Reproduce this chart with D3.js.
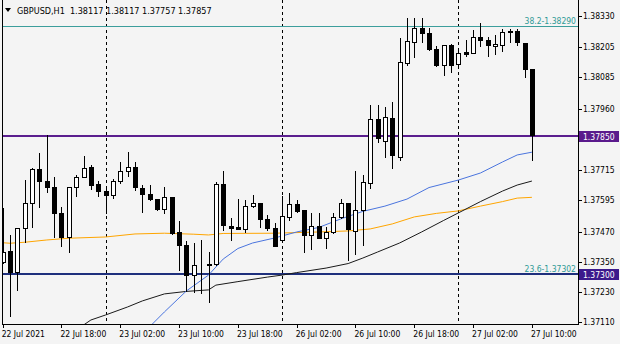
<!DOCTYPE html>
<html>
<head>
<meta charset="utf-8">
<script src="https://cdn.jsdelivr.net/npm/d3@7"></script>
<style>
  html, body { margin: 0; padding: 0; background: #f4f4f4; }
  svg { display: block; font-family: "DejaVu Sans Condensed", "Liberation Sans", sans-serif; }
</style>
</head>
<body>
<svg id="chart" width="620" height="344"></svg>
<script>
// ── GBPUSD H1 candles, 22 Jul 10:00 → 27 Jul 10:00 (one entry per bar) ──
const opens = [
  1.37349, 1.37394, 1.37310, 1.37484, 1.37583, 1.37720, 1.37671, 1.37649, 1.37543, 1.37450,
  1.37647, 1.37687, 1.37727, 1.37659, 1.37634, 1.37616, 1.37673, 1.37713, 1.37727, 1.37643,
  1.37620, 1.37599, 1.37562, 1.37607, 1.37468, 1.37417, 1.37297, 1.37339, 1.37341, 1.37340,
  1.37659, 1.37493, 1.37490, 1.37481, 1.37573, 1.37586, 1.37521, 1.37484, 1.37437, 1.37530,
  1.37580, 1.37557, 1.37457, 1.37493, 1.37446, 1.37468, 1.37527, 1.37586, 1.37473, 1.37557,
  1.37664, 1.37919, 1.37832, 1.37923, 1.37768, 1.38141, 1.38226, 1.38281, 1.38261, 1.38198,
  1.38135, 1.38214, 1.38139, 1.38185, 1.38184, 1.38247, 1.38234, 1.38212, 1.38214, 1.38268,
  1.38270, 1.38224, 1.38117
];
const highs = [
  1.37564, 1.37457, 1.37485, 1.37676, 1.37723, 1.37783, 1.37856, 1.37689, 1.37567, 1.37648,
  1.37696, 1.37772, 1.37736, 1.37672, 1.37643, 1.37680, 1.37747, 1.37787, 1.37747, 1.37656,
  1.37656, 1.37600, 1.37647, 1.37607, 1.37514, 1.37433, 1.37425, 1.37437, 1.37389, 1.37669,
  1.37713, 1.37523, 1.37600, 1.37596, 1.37616, 1.37586, 1.37537, 1.37503, 1.37614, 1.37623,
  1.37596, 1.37557, 1.37543, 1.37543, 1.37490, 1.37543, 1.37600, 1.37586, 1.37712, 1.37696,
  1.37975, 1.37975, 1.37967, 1.37987, 1.38242, 1.38322, 1.38322, 1.38322, 1.38282, 1.38210,
  1.38214, 1.38218, 1.38202, 1.38236, 1.38276, 1.38302, 1.38247, 1.38254, 1.38280, 1.38278,
  1.38277, 1.38224, 1.38117
];
const lows = [
  1.37345, 1.37134, 1.37238, 1.37430, 1.37490, 1.37567, 1.37630, 1.37450, 1.37414, 1.37390,
  1.37612, 1.37687, 1.37639, 1.37614, 1.37543, 1.37606, 1.37665, 1.37692, 1.37636, 1.37550,
  1.37596, 1.37557, 1.37543, 1.37461, 1.37317, 1.37234, 1.37230, 1.37226, 1.37191, 1.37337,
  1.37477, 1.37437, 1.37480, 1.37470, 1.37570, 1.37490, 1.37477, 1.37414, 1.37432, 1.37517,
  1.37550, 1.37390, 1.37401, 1.37444, 1.37405, 1.37464, 1.37523, 1.37357, 1.37381, 1.37417,
  1.37644, 1.37829, 1.37768, 1.37724, 1.37756, 1.38135, 1.38166, 1.38226, 1.38196, 1.38131,
  1.38095, 1.38107, 1.38135, 1.38170, 1.38181, 1.38210, 1.38172, 1.38178, 1.38190, 1.38228,
  1.38214, 1.38087, 1.37757
];
const closes = [
  1.37389, 1.37310, 1.37484, 1.37583, 1.37719, 1.37672, 1.37649, 1.37543, 1.37450, 1.37647,
  1.37687, 1.37723, 1.37656, 1.37634, 1.37616, 1.37673, 1.37713, 1.37727, 1.37647, 1.37620,
  1.37599, 1.37559, 1.37607, 1.37464, 1.37417, 1.37297, 1.37337, 1.37339, 1.37339, 1.37660,
  1.37497, 1.37484, 1.37480, 1.37573, 1.37586, 1.37519, 1.37484, 1.37414, 1.37533, 1.37580,
  1.37552, 1.37457, 1.37493, 1.37446, 1.37468, 1.37527, 1.37586, 1.37479, 1.37557, 1.37668,
  1.37918, 1.37844, 1.37927, 1.37776, 1.38147, 1.38230, 1.38281, 1.38261, 1.38198, 1.38135,
  1.38214, 1.38135, 1.38181, 1.38178, 1.38247, 1.38236, 1.38214, 1.38220, 1.38266, 1.38270,
  1.38228, 1.38118, 1.37857
];

// ── Moving averages at a few bars (bar index, price) ──
const blueIdx = [19, 22, 25, 28, 30, 32, 34, 37, 40, 43, 46, 49, 52, 55, 58, 62, 65, 68, 70, 72];
const blueVal = [1.37062, 1.37150, 1.37234, 1.37297, 1.37361, 1.37403, 1.37425, 1.37445, 1.37469, 1.37487,
                 1.37521, 1.37551, 1.37572, 1.37600, 1.37646, 1.37676, 1.37704, 1.37748, 1.37776, 1.37787];
const blackIdx = [10, 12, 14, 17, 19, 22, 25, 28, 29, 32, 36, 38, 40, 44, 47, 49, 51, 54, 57, 60, 62, 65, 68, 70, 72];
const blackVal = [1.37078, 1.37118, 1.37138, 1.37170, 1.37194, 1.37222, 1.37232, 1.37238, 1.37257, 1.37271,
                  1.37289, 1.37297, 1.37307, 1.37325, 1.37343, 1.37365, 1.37389, 1.37425, 1.37469, 1.37515,
                  1.37545, 1.37590, 1.37632, 1.37656, 1.37672];
const orangeIdx = [0, 1, 3, 6, 9, 14, 18, 22, 26, 28, 30, 37, 43, 47, 50, 53, 56, 59, 62, 65, 68, 70, 72];
const orangeVal = [1.37426, 1.37424, 1.37428, 1.37437, 1.37444, 1.37449, 1.37461, 1.37464, 1.37460, 1.37457,
                   1.37463, 1.37464, 1.37469, 1.37473, 1.37481, 1.37501, 1.37529, 1.37543, 1.37553, 1.37572,
                   1.37590, 1.37604, 1.37607];

// ── Axis ticks ──
const priceTicks = [1.38330, 1.38205, 1.38085, 1.37960, 1.37840, 1.37715, 1.37595, 1.37470, 1.37350, 1.37230, 1.37110];
const timeTickIdx = [0, 8, 16, 24, 32, 40, 48, 56, 64, 72];
const timeTickLabels = ["22 Jul 2021", "22 Jul 18:00", "23 Jul 02:00", "23 Jul 10:00", "23 Jul 18:00",
                        "26 Jul 02:00", "26 Jul 10:00", "26 Jul 18:00", "27 Jul 02:00", "27 Jul 10:00"];
const daySeparatorIdx = [14, 38, 62];

// ── Horizontal levels ──
const fibLevels = [1.38290, 1.37302];
const fibLabels = ["38.2-1.38290", "23.6-1.37302"];
const hLevels = [1.37850, 1.37300];
const hLabels = ["1.37850", "1.37300"];

const title = "GBPUSD,H1  1.38117 1.38117 1.37757 1.37857";

// ── Layout ──
const W = 620, H = 344;
const plotL = 2, plotR = 578, plotT = 0, plotB = 324;

const svg = d3.select("#chart");

const x = d3.scaleLinear().domain([0, 72]).range([2.7, 531.9]);
const y = d3.scaleLinear().domain([1.37110, 1.38330]).range([322, 16]);
const px = v => Math.round(v) + 0.5;

svg.append("rect").attr("width", W).attr("height", H).attr("fill", "#f4f4f4");

svg.append("defs").append("clipPath").attr("id", "plot-clip")
  .append("rect")
  .attr("x", plotL + 1).attr("y", plotT)
  .attr("width", plotR - plotL - 1).attr("height", plotB - plotT);

const plot = svg.append("g").attr("clip-path", "url(#plot-clip)");

// Day separators
plot.selectAll(".sep")
  .data(daySeparatorIdx)
  .join("line")
  .attr("x1", d => px(x(d))).attr("x2", d => px(x(d)))
  .attr("y1", plotT).attr("y2", plotB)
  .attr("stroke", "#000").attr("stroke-width", 1)
  .attr("stroke-dasharray", "3,3");

// Fibo lines (teal)
plot.selectAll(".fib")
  .data(fibLevels)
  .join("line")
  .attr("x1", plotL).attr("x2", plotR)
  .attr("y1", d => px(y(d))).attr("y2", d => px(y(d)))
  .attr("stroke", "#3c9e9c").attr("stroke-width", 1);

// Horizontal levels
const levelColors = ["#5a1e8e", "#1e2f7c"];
plot.selectAll(".hl")
  .data(hLevels)
  .join("line")
  .attr("x1", plotL).attr("x2", plotR)
  .attr("y1", d => Math.round(y(d))).attr("y2", d => Math.round(y(d)))
  .attr("stroke", (d, i) => levelColors[i]).attr("stroke-width", 2);

// Moving averages
function maLine(idx, vals, color) {
  const pts = idx.map((d, i) => [x(d), y(vals[i])]);
  plot.append("path")
    .attr("d", d3.line()(pts))
    .attr("fill", "none")
    .attr("stroke", color)
    .attr("stroke-width", 1);
}
maLine(orangeIdx, orangeVal, "#ffa500");
maLine(blackIdx, blackVal, "#1a1a1a");
maLine(blueIdx, blueVal, "#4a74de");

// Candles
const bars = d3.range(opens.length).map(i => ({
  i, o: opens[i], h: highs[i], l: lows[i], c: closes[i]
}));

const cg = plot.selectAll(".candle")
  .data(bars)
  .join("g");

cg.append("line")
  .attr("x1", d => px(x(d.i))).attr("x2", d => px(x(d.i)))
  .attr("y1", d => Math.round(y(d.h))).attr("y2", d => Math.round(y(d.l)) + 1)
  .attr("stroke", "#000").attr("stroke-width", 1);

cg.append("rect")
  .attr("x", d => Math.round(x(d.i)) - 1.5)
  .attr("width", 4)
  .attr("y", d => px(y(Math.max(d.o, d.c))))
  .attr("height", d => Math.max(0, Math.round(y(Math.min(d.o, d.c))) - Math.round(y(Math.max(d.o, d.c)))))
  .attr("fill", d => d.c > d.o ? "#ffffff" : "#000000")
  .attr("stroke", "#000").attr("stroke-width", 1);

// Fibo labels
svg.selectAll(".fibtxt")
  .data(fibLabels)
  .join("text")
  .attr("x", 576).attr("y", (d, i) => y(fibLevels[i]) - 2)
  .attr("text-anchor", "end")
  .attr("font-size", 8.5)
  .attr("fill", "#2f9a96")
  .text(d => d);

// ── Frame ──
svg.append("line").attr("x1", plotL + 0.5).attr("x2", plotL + 0.5).attr("y1", plotT).attr("y2", plotB + 0.5)
  .attr("stroke", "#000");
svg.append("line").attr("x1", plotR + 0.5).attr("x2", plotR + 0.5).attr("y1", plotT).attr("y2", plotB + 0.5)
  .attr("stroke", "#000");
svg.append("line").attr("x1", plotL).attr("x2", plotR + 1).attr("y1", plotB + 0.5).attr("y2", plotB + 0.5)
  .attr("stroke", "#000");

// ── Right price axis ──
// labels hidden under a level tag are not drawn (as in the terminal)
const visibleTicks = priceTicks.filter(t => hLevels.every(h => Math.abs(y(t) - y(h)) > 9));
const yAxis = svg.append("g");
yAxis.selectAll("line")
  .data(priceTicks)
  .join("line")
  .attr("x1", plotR + 1).attr("x2", plotR + 4)
  .attr("y1", d => px(y(d))).attr("y2", d => px(y(d)))
  .attr("stroke", "#000");
yAxis.selectAll("text")
  .data(visibleTicks)
  .join("text")
  .attr("x", plotR + 5).attr("y", d => y(d) + 3)
  .attr("font-size", 8.5).attr("fill", "#000")
  .text(d => d.toFixed(5));

// Level tags on the price axis
const tagColors = ["#5a1a8c", "#3c1a8c"];
const tags = svg.selectAll(".tag")
  .data(hLevels)
  .join("g");
tags.append("rect")
  .attr("x", plotR + 1).attr("width", 40)
  .attr("y", d => Math.round(y(d)) - 5).attr("height", 11)
  .attr("fill", (d, i) => tagColors[i]);
tags.append("text")
  .attr("x", plotR + 5).attr("y", d => y(d) + 3.5)
  .attr("font-size", 8.5).attr("fill", "#fff")
  .text((d, i) => hLabels[i]);

// ── Bottom time axis ──
const xAxis = svg.append("g");
xAxis.selectAll("line")
  .data(timeTickIdx)
  .join("line")
  .attr("x1", d => px(x(d))).attr("x2", d => px(x(d)))
  .attr("y1", plotB).attr("y2", plotB + 4)
  .attr("stroke", "#000");
xAxis.selectAll("text")
  .data(timeTickIdx)
  .join("text")
  .attr("x", d => Math.max(1.5, x(d) - 1))
  .attr("y", 337)
  .attr("font-size", 8.5).attr("fill", "#000")
  .text((d, i) => timeTickLabels[i]);

// ── Title ──
svg.append("path")
  .attr("d", "M5,8 L11,8 L8,12 Z")
  .attr("fill", "#000");
svg.append("text")
  .attr("x", 17).attr("y", 14)
  .attr("font-size", 9).attr("fill", "#000")
  .attr("xml:space", "preserve")
  .style("white-space", "pre")
  .text(title);
</script>
</body>
</html>
